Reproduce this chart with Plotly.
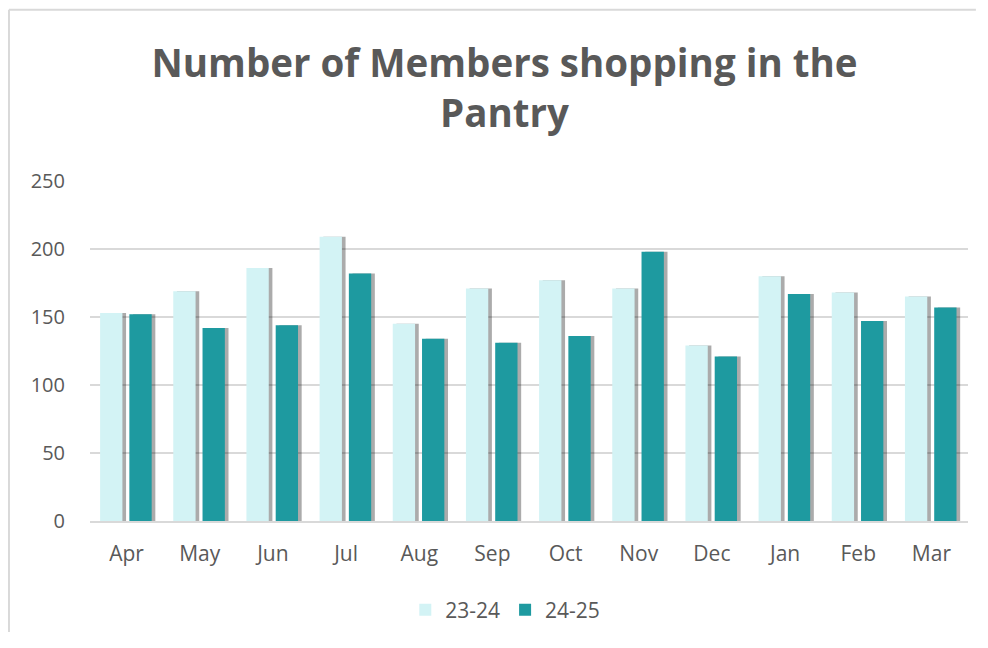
import plotly.graph_objects as go

months = ["Apr", "May", "Jun", "Jul", "Aug", "Sep", "Oct", "Nov", "Dec", "Jan", "Feb", "Mar"]
members_23_24 = [153, 169, 186, 209, 145, 171, 177, 171, 129, 180, 168, 165]
members_24_25 = [152, 142, 144, 182, 134, 131, 136, 198, 121, 167, 147, 157]
y_ticks = [0, 50, 100, 150, 200, 250]

LIGHT = "#D3F3F5"
DARK = "#1E9AA0"
SHADOW = "rgba(0,0,0,0.33)"
TEXT = "#595959"
GRID = "#D9D9D9"
FONT = "Open Sans"

W = 0.305
OFF_L = -0.362
OFF_D = 0.038
SH = 0.05

fig = go.Figure()
# shadows
fig.add_trace(go.Bar(x=months, y=members_23_24, width=W, offset=OFF_L + SH,
                     marker=dict(color=SHADOW, line=dict(width=0)),
                     showlegend=False, hoverinfo="skip"))
fig.add_trace(go.Bar(x=months, y=members_24_25, width=W, offset=OFF_D + SH,
                     marker=dict(color=SHADOW, line=dict(width=0)),
                     showlegend=False, hoverinfo="skip"))
# bars
fig.add_trace(go.Bar(x=months, y=members_23_24, name="23-24", width=W, offset=OFF_L,
                     marker=dict(color=LIGHT, line=dict(width=0))))
fig.add_trace(go.Bar(x=months, y=members_24_25, name="24-25", width=W, offset=OFF_D,
                     marker=dict(color=DARK, line=dict(width=0))))

border = dict(type="line", xref="paper", yref="paper",
              line=dict(color=GRID, width=2), layer="below")

H = 624
fig.update_layout(
    width=968, height=H,
    barmode="overlay",
    paper_bgcolor="white", plot_bgcolor="white",
    margin=dict(l=82, r=8, t=173, b=111, autoexpand=False),
    font=dict(family=FONT, color=TEXT, size=20),
    title=dict(
        text="<b>Number of Members shopping in the<br>Pantry</b>",
        x=496.5 / 968, xanchor="center", xref="container",
        y=1 - 69 / H, yanchor="top", yref="container",
        font=dict(family=FONT, size=38.5, color=TEXT),
    ),
    xaxis=dict(
        showgrid=False, showline=True, linecolor=GRID, linewidth=2,
        ticks="", tickfont=dict(size=21, color=TEXT), ticklabelstandoff=13,
    ),
    yaxis=dict(
        range=[0, 250], tickvals=y_ticks, showgrid=True, gridcolor=GRID, gridwidth=2,
        zeroline=False, showline=False, ticks="",
        tickfont=dict(size=20, color=TEXT), ticklabelstandoff=24,
    ),
    legend=dict(
        orientation="h", x=0.473, xanchor="center",
        y=(H - 602) / H, yanchor="middle", yref="container",
        font=dict(size=21, color=TEXT), traceorder="normal",
        itemwidth=30,
    ),
    shapes=[
        dict(border, x0=-0.0923, x1=1.009, y0=1.504, y1=1.504),
        dict(border, x0=-0.0923, x1=-0.0923, y0=-0.327, y1=1.504),
    ],
)

fig.write_html("out.html")
